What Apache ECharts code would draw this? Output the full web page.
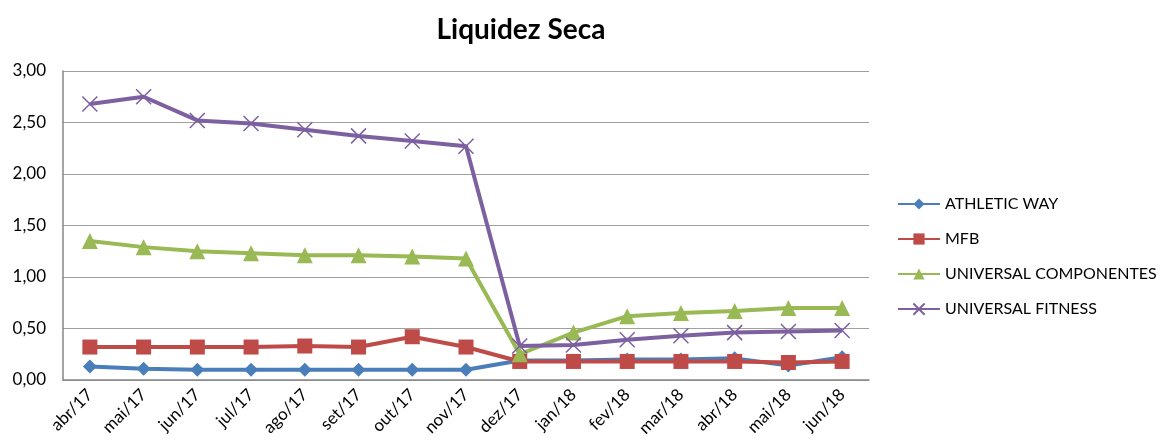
<!DOCTYPE html>
<html>
<head>
<meta charset="utf-8">
<script src="https://cdn.jsdelivr.net/npm/echarts@6/dist/echarts.min.js"></script>
<style>
  html, body { margin: 0; padding: 0; background: #fff; }
  #chart { width: 1165px; height: 444px; }
</style>
</head>
<body>
<div id="chart"></div>
<script>
const months = ['abr/17', 'mai/17', 'jun/17', 'jul/17', 'ago/17', 'set/17', 'out/17', 'nov/17',
    'dez/17', 'jan/18', 'fev/18', 'mar/18', 'abr/18', 'mai/18', 'jun/18'];

const athleticWay = [0.13, 0.11, 0.10, 0.10, 0.10, 0.10, 0.10, 0.10, 0.19, 0.19, 0.20, 0.20, 0.21, 0.14, 0.22];
const mfb = [0.32, 0.32, 0.32, 0.32, 0.33, 0.32, 0.42, 0.32, 0.18, 0.18, 0.18, 0.18, 0.18, 0.17, 0.18];
const universalComponentes = [1.35, 1.29, 1.25, 1.23, 1.21, 1.21, 1.20, 1.18, 0.25, 0.46, 0.62, 0.65, 0.67, 0.70, 0.70];
const universalFitness = [2.68, 2.75, 2.52, 2.49, 2.43, 2.37, 2.32, 2.27, 0.33, 0.34, 0.39, 0.43, 0.46, 0.47, 0.48];

const yTicks = { min: 0, max: 3, step: 0.5 };

const FONT = 'Lato, "Open Sans", sans-serif';
const crossPath = 'path://M0,0L10,10M10,0L0,10';

function lineSeries(name, data, color, symbol, size, extra) {
    return Object.assign({
        name: name,
        type: 'line',
        data: data,
        symbol: symbol,
        symbolSize: size,
        lineStyle: { color: color, width: 4 },
        itemStyle: { color: color },
        emphasis: { disabled: true },
        z: 2
    }, extra || {});
}

const chart = echarts.init(document.getElementById('chart'));
chart.setOption({
    animation: false,
    title: {
        text: 'Liquidez Seca',
        left: 516,
        top: 11,
        textAlign: 'center',
        textStyle: { fontFamily: FONT, fontSize: 28, fontWeight: 'bold', color: '#000' }
    },
    legend: {
        orient: 'vertical',
        left: 897,
        top: 196,
        padding: 0,
        itemGap: 19,
        itemWidth: 42,
        itemHeight: 14,
        textStyle: { fontFamily: FONT, fontSize: 16, color: '#000' },
        data: ['ATHLETIC WAY', 'MFB', 'UNIVERSAL COMPONENTES', 'UNIVERSAL FITNESS']
    },
    grid: { left: 63, right: 296, top: 71, bottom: 64 },
    xAxis: {
        type: 'category',
        data: months,
        boundaryGap: true,
        axisLine: { lineStyle: { color: '#868686', width: 1.5 } },
        axisTick: { show: false },
        axisLabel: { rotate: 45, fontFamily: FONT, fontSize: 17, color: '#000', margin: 12 }
    },
    yAxis: {
        type: 'value',
        min: yTicks.min,
        max: yTicks.max,
        interval: yTicks.step,
        axisLine: { show: true, lineStyle: { color: '#868686', width: 1.5 } },
        axisTick: { show: false },
        splitLine: { lineStyle: { color: '#a0a0a0', width: 1 } },
        axisLabel: {
            fontFamily: FONT, fontSize: 17, color: '#000', margin: 17,
            formatter: v => v.toFixed(2).replace('.', ',')
        }
    },
    series: [
        lineSeries('ATHLETIC WAY', athleticWay, '#4a7ebb', 'diamond', 14),
        lineSeries('MFB', mfb, '#be4b48', 'rect', 15),
        lineSeries('UNIVERSAL COMPONENTES', universalComponentes, '#98b954', 'triangle', 16),
        lineSeries('UNIVERSAL FITNESS', universalFitness, '#7d60a0', crossPath, 15, {
            itemStyle: { color: 'none', borderColor: '#7d60a0', borderWidth: 1.5 }
        })
    ]
});
</script>
</body>
</html>
